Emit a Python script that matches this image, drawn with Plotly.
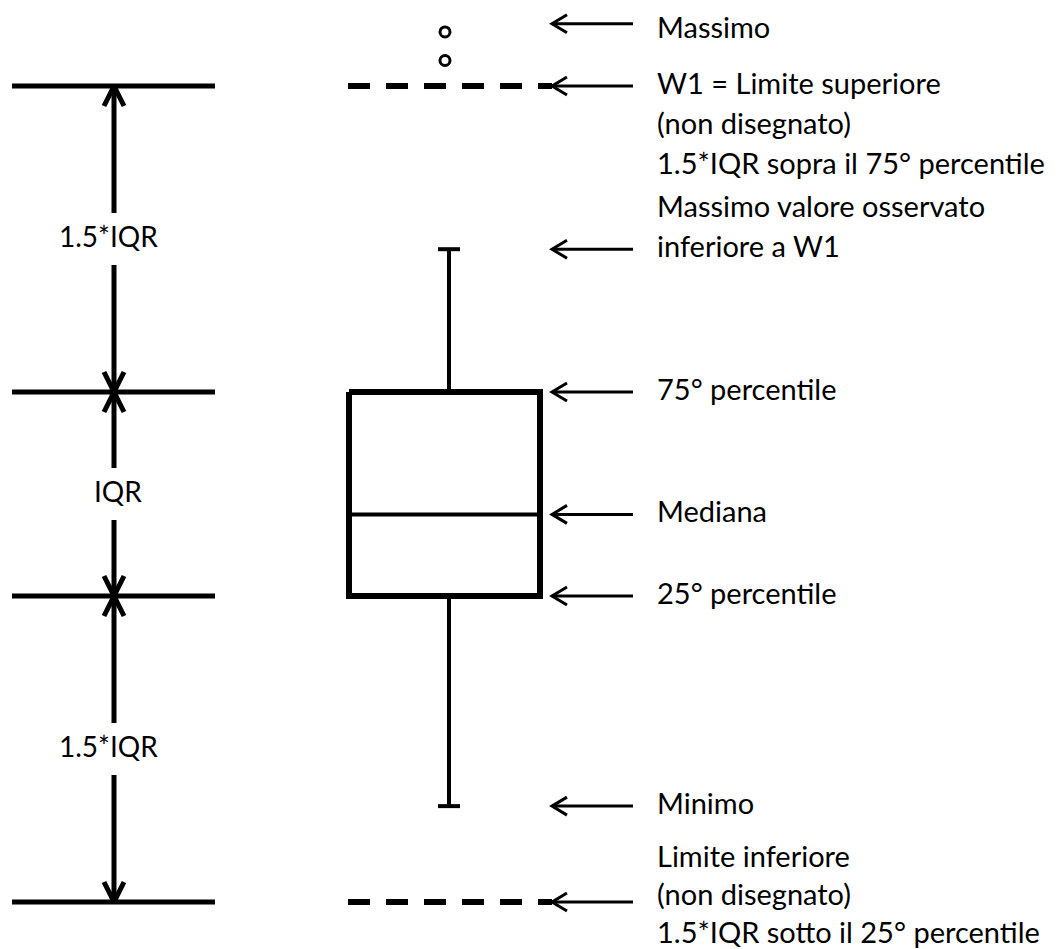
import plotly.graph_objects as go

# ---------------- data (value units) ----------------
q1, median, q3 = 10.0, 18.0, 30.0
whisker_low, whisker_high = -10.6, 44.0
upper_limit, lower_limit = 60.0, -20.0          # 1.5*IQR beyond the quartiles
outliers = [62.5, 65.3]
max_label_level = 66.1                           # where the "Massimo" arrow points

left_levels = [upper_limit, q3, q1, lower_limit]
left_spans = [(upper_limit, q3, "1.5*IQR"), (q3, q1, "IQR"), (q1, lower_limit, "1.5*IQR")]

right_arrow_levels = [max_label_level, upper_limit, whisker_high, q3, median, q1, whisker_low, lower_limit]
right_texts = [
    (["Massimo"], 0),
    (["W1 = Limite superiore", "(non disegnato)", "1.5*IQR sopra il 75° percentile"], 0),
    (["Massimo valore osservato", "inferiore a W1"], 1),
    (["75° percentile"], 0),
    (["Mediana"], 0),
    (["25° percentile"], 0),
    (["Minimo"], 0),
    (["Limite inferiore", "(non disegnato)", "1.5*IQR sotto il 25° percentile"], 1),
]

# ---------------- layout constants (pixels) ----------------
OFF = 8                      # page body margin
W, H = 1062 - OFF, 949 - OFF
PX_PER_UNIT = 10.2
Y_TOP = q3 + (392 - OFF) / PX_PER_UNIT
Y_BOT = Y_TOP - H / PX_PER_UNIT
U = 1.0 / PX_PER_UNIT          # one pixel in value units

BOX_L, BOX_R, BOX_C = 349, 540, 449
CAP_HALF = 11
LEFT_X0, LEFT_X1, LEFT_AX = 12, 215, 114
DASH_X0, DASH_X1 = 348, 552
RARROW_X0, RARROW_X1 = 552, 633
TEXT_X = 655
TEXT_SHIFTS = [-3, 4, 4, 4, 4, 4, 4, 9]
TEXT_PITCH = [40, 40, 40, 40, 40, 40, 40, 38]
FONT = dict(family="Lato, 'Open Sans', sans-serif", size=28, color="black")
FONT_R = dict(family="Lato, 'Open Sans', sans-serif", size=29, color="black")

fig = go.Figure()


def line(xs, ys, width, dash=None):
    fig.add_trace(go.Scatter(x=xs, y=ys, mode="lines", hoverinfo="skip", showlegend=False,
                             line=dict(color="black", width=width, dash=dash)))


# left horizontal reference lines
for lv in left_levels:
    line([LEFT_X0, LEFT_X1], [lv, lv], 5)

# left vertical double arrows with labels
GAP = 26 * U
for top, bot, lab in left_spans:
    mid = (top + bot) / 2
    line([LEFT_AX, LEFT_AX], [mid + GAP, top], 5)
    line([LEFT_AX, LEFT_AX], [mid - GAP, bot], 5)
    # open V heads
    line([LEFT_AX - 10, LEFT_AX, LEFT_AX + 10], [top - 20 * U, top, top - 20 * U], 5)
    line([LEFT_AX - 10, LEFT_AX, LEFT_AX + 10], [bot + 20 * U, bot, bot + 20 * U], 5)
    fig.add_annotation(x=LEFT_AX - (6 if lab != "IQR" else -4), y=mid + 3 * U, text=lab,
                       showarrow=False, xanchor="center", yanchor="middle", font=FONT)

# box
line([BOX_L, BOX_R, BOX_R, BOX_L, BOX_L], [q3, q3, q1, q1, q3], 6)
line([BOX_L, BOX_R], [median, median], 4)
# whiskers and caps
line([BOX_C, BOX_C], [q3, whisker_high], 4)
line([BOX_C, BOX_C], [q1, whisker_low], 4)
line([BOX_C - CAP_HALF, BOX_C + CAP_HALF], [whisker_high, whisker_high], 4)
line([BOX_C - CAP_HALF, BOX_C + CAP_HALF], [whisker_low, whisker_low], 4)

# dashed (not drawn) limits
for lv in (upper_limit, lower_limit):
    line([DASH_X0, DASH_X1], [lv, lv], 6, dash="22px,16px")

# outliers
fig.add_trace(go.Scatter(x=[BOX_C - 4] * len(outliers), y=outliers, mode="markers",
                         hoverinfo="skip", showlegend=False,
                         marker=dict(symbol="circle-open", size=10, color="black",
                                     line=dict(width=3, color="black"))))

# right pointer arrows + texts
for lv, (lines_, anchor_idx), ys, pitch in zip(right_arrow_levels, right_texts, TEXT_SHIFTS, TEXT_PITCH):
    line([RARROW_X0, RARROW_X1], [lv, lv], 3)
    line([RARROW_X0 + 15, RARROW_X0, RARROW_X0 + 15], [lv + 9 * U, lv, lv - 9 * U], 3)
    for i, t in enumerate(lines_):
        ty = lv - (i - anchor_idx) * pitch * U
        fig.add_annotation(x=TEXT_X, y=ty, text=t, showarrow=False, yshift=ys,
                           xanchor="left", yanchor="middle", font=FONT_R)

fig.update_layout(
    width=W, height=H, margin=dict(l=0, r=0, t=0, b=0),
    paper_bgcolor="white", plot_bgcolor="white",
    xaxis=dict(range=[OFF, OFF + W], visible=False, fixedrange=True),
    yaxis=dict(range=[Y_BOT, Y_TOP], visible=False, fixedrange=True),
)

fig.write_html("out.html")
